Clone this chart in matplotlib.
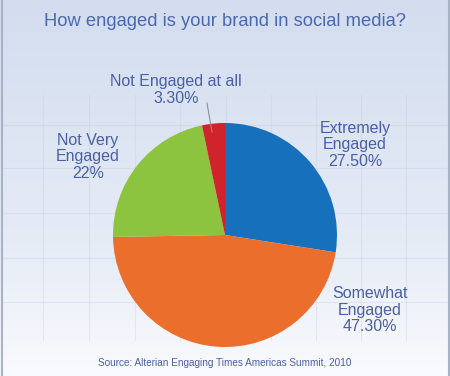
import numpy as np
import matplotlib
matplotlib.use("Agg")
import matplotlib.pyplot as plt
from matplotlib.colors import LinearSegmentedColormap

plt.rcParams['font.family'] = ['Liberation Sans', 'DejaVu Sans']

title = "How engaged is your brand in social media?"
source = "Source: Alterian Engaging Times Americas Summit, 2010"
categories = ["Extremely\nEngaged", "Somewhat\nEngaged", "Not Very\nEngaged", "Not Engaged at all"]
pct_labels = ["27.50%", "47.30%", "22%", "3.30%"]
values = [27.5, 47.3, 22.0, 3.3]
colors = ["#1670bb", "#ec6e2d", "#8cc43f", "#d1232c"]

W, H = 450, 376
fig = plt.figure(figsize=(W / 100, H / 100), dpi=100)
ax = fig.add_axes([0, 0, 1, 1])
ax.set_xlim(0, W)
ax.set_ylim(0, H)
ax.axis('off')

# background gradient
cmap = LinearSegmentedColormap.from_list('bg', [(0, '#f9fafd'), (0.35, '#e6ecf6'), (1, '#d3ddef')])
grad = np.linspace(0, 1, 256).reshape(-1, 1)
ax.imshow(grad, extent=[0, W, 0, H], origin='lower', cmap=cmap, aspect='auto', zorder=0)

# faint grid
gc = '#c3cde0'
for x in [43, 89, 135, 180, 226, 271, 316, 361, 406]:
    ax.plot([x, x], [H - 340, H - 95], color=gc, lw=0.8, alpha=0.35, zorder=1)
for y in [125, 168, 213, 258, 302]:
    ax.plot([3, W - 3], [H - y, H - y], color=gc, lw=0.8, alpha=0.35, zorder=1)

# border
ax.plot([1.5, 1.5], [0, H], color='#a9b3c6', lw=1.5, zorder=2)
ax.plot([W - 1.5, W - 1.5], [0, H], color='#a9b3c6', lw=1.5, zorder=2)

# pie
cx, cy, r = 225, H - 235, 112
wedges, _ = ax.pie(values, colors=colors, startangle=90, counterclock=False,
                   center=(cx, cy), radius=r, frame=True,
                   wedgeprops=dict(linewidth=0, zorder=3))
ax.set_xlim(0, W)
ax.set_ylim(0, H)
ax.axis('off')

tc = '#4a5fa6'
label_pos = [(355, 145), (370, 310), (88, 157), (176, 90)]
for cat, p, (x, y) in zip(categories, pct_labels, label_pos):
    ax.text(x, H - y, cat + "\n" + p, ha='center', va='center', fontsize=11.5,
            color=tc, linespacing=1.15, zorder=5)

# leader line for small slice
ax.plot([207, 212], [H - 103, H - 132], color='#8a8f99', lw=0.8, zorder=4)

ax.text(225, H - 22, title, ha='center', va='center', fontsize=13.2, color='#4c68b0', zorder=5)
ax.text(225, H - 363, source, ha='center', va='center', fontsize=7.2, color='#4a5fa6', zorder=5)

fig.savefig('out.png', dpi=100)
